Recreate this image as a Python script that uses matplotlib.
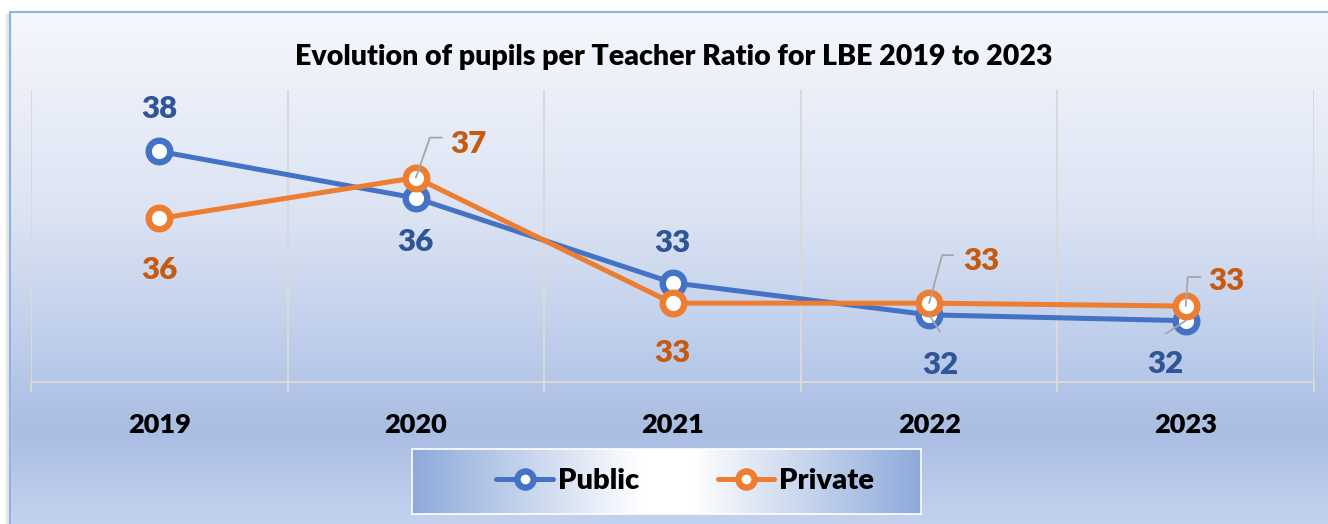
import math
import numpy as np
import matplotlib
matplotlib.use("Agg")
import matplotlib.pyplot as plt
from matplotlib.colors import LinearSegmentedColormap
from matplotlib.patches import Rectangle

plt.rcParams['font.family'] = ['Lato', 'DejaVu Sans']
plt.rcParams['font.weight'] = 'heavy'

years = ['2019', '2020', '2021', '2022', '2023']
public = [37.9, 36.3, 33.4, 32.3, 32.1]
private = [35.6, 37.0, 32.7, 32.7, 32.6]

# label offsets in pixels (dx, dy) from each point
public_lbl = [(0, 42), (0, -44), (0, 40), (11, -50), (-20, -43)]
private_lbl = [(0, -52), (53, 34), (0, -50), (52, 42), (41, 25)]
# leader lines: (index, corner, end) in pixel offsets; corner None = straight
public_lead = [(3, None, (11, -17)), (4, None, (-20, -13))]
private_lead = [(1, (14, 40), (26, 40)), (3, (13, 48), (24, 48)), (4, (2, 29), (15, 29))]

W, H = 1328, 524
fig = plt.figure(figsize=(W / 100, H / 100), dpi=100)
fig.patch.set_facecolor('white')

# chart background with vertical gradient
bg = fig.add_axes([0, 0, 1, 1])
bg.set_xlim(0, W)
bg.set_ylim(H, 0)
bg.axis('off')
bg.set_zorder(-3)
cmap = LinearSegmentedColormap.from_list('bg', [
    (0.0, '#f5f7fc'), (0.4, '#dbe3f3'), (0.72, '#b5c7e8'),
    (0.82, '#aabde3'), (1.0, '#c3d2ee')])
grad = np.linspace(0, 1, 256).reshape(-1, 1)
bg.imshow(grad, cmap=cmap, aspect='auto', extent=(10, W, H, 12), zorder=0)
bg.add_patch(Rectangle((6, 14), 4, H, color='#e6e6e6', zorder=0))
bg.plot([10, 10, W], [H, 12, 12], color='#8db3e2', lw=1.5, zorder=1)

# legend box with horizontal gradient
lx0, lx1, ly0, ly1 = 412, 921, 449, 514
lax = fig.add_axes([lx0 / W, 1 - ly1 / H, (lx1 - lx0) / W, (ly1 - ly0) / H])
lax.set_zorder(-2)
lcmap = LinearSegmentedColormap.from_list('lg', [
    (0.0, '#8eaadb'), (0.45, '#ffffff'), (0.55, '#ffffff'), (1.0, '#8eaadb')])
lax.imshow(np.linspace(0, 1, 256).reshape(1, -1), cmap=lcmap, aspect='auto',
           extent=(0, 1, 0, 1))
lax.set_xticks([])
lax.set_yticks([])
for s in lax.spines.values():
    s.set_color('white')
    s.set_linewidth(1.2)

# main plot
ax = fig.add_axes([31 / W, 1 - 382 / H, (1314 - 31) / W, (382 - 90) / H])
ax.patch.set_visible(False)
x = np.arange(len(years))
ax.set_xlim(-0.5, len(years) - 0.5)
ax.set_ylim(30, 40)

for b in np.arange(-0.5, len(years), 1.0):
    ax.axvline(b, color='#d9d9d9', lw=1.5, zorder=1)
for side in ['top', 'right', 'left']:
    ax.spines[side].set_visible(False)
ax.spines['bottom'].set_color('#d9d9d9')
ax.spines['bottom'].set_linewidth(1.5)
ax.set_yticks([])
ax.set_xticks(x)
ax.set_xticklabels(years, fontsize=19.5, fontweight='heavy')
ax.tick_params(axis='x', which='major', length=0, pad=22)
ax.set_xticks(np.arange(-0.5, len(years), 1.0), minor=True)
ax.tick_params(axis='x', which='minor', length=7.5, width=1.5, color='#d9d9d9')

series = [
    ('Public', public, '#4472c4', '#2f5597', public_lbl, public_lead),
    ('Private', private, '#ed7d31', '#c55a11', private_lbl, private_lead),
]
for name, vals, col, lcol, lbls, leads in series:
    ax.plot(x, vals, color=col, lw=3.6, marker='o', ms=15.5, mew=4.6,
            mfc='white', mec=col, label=name, zorder=3, solid_capstyle='round')
for name, vals, col, lcol, lbls, leads in series:
    for i, (dx, dy) in enumerate(lbls):
        ax.annotate(f'{vals[i]:.0f}', xy=(x[i], vals[i]), xytext=(dx, dy),
                    textcoords='offset pixels', ha='center', va='center',
                    fontsize=22.5, fontweight='heavy', color=lcol, zorder=5)
    for i, corner, end in leads:
        if corner is None:
            cs = 'arc3'
        else:
            ang = math.degrees(math.atan2(corner[1], corner[0]))
            cs = f'angle,angleA=0,angleB={ang:.1f},rad=0'
        ax.annotate('', xy=(x[i], vals[i]), xytext=end, textcoords='offset pixels',
                    arrowprops=dict(arrowstyle='-', color='#a6a6a6', lw=1.3,
                                    shrinkA=0, shrinkB=0, connectionstyle=cs),
                    zorder=6)

fig.text(674 / W, 1 - 57 / H, 'Evolution of pupils per Teacher Ratio for LBE 2019 to 2023',
         ha='center', va='center', fontsize=20.5, fontweight='heavy', color='black')

leg = ax.legend(loc='center', bbox_to_anchor=(685 / W, 1 - 481 / H),
                bbox_transform=fig.transFigure, ncol=2, frameon=False,
                prop={'size': 21, 'weight': 'heavy'}, handlelength=1.95,
                handletextpad=0.15, columnspacing=2.7, markerscale=0.75)

fig.savefig('out.png', dpi=100)
